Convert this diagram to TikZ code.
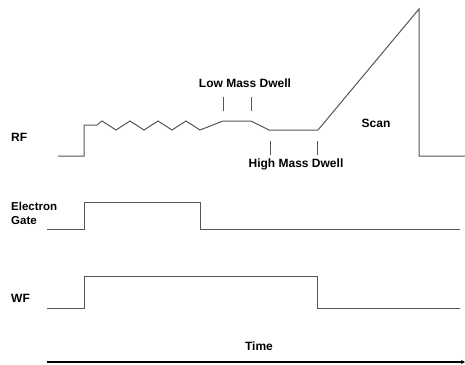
\documentclass[tikz,border=0pt]{standalone}
\usepackage{fontspec}
\setmainfont{Liberation Sans}
\usetikzlibrary{positioning,arrows.meta}
\definecolor{trGray}{RGB}{85,85,85}
\definecolor{txBlack}{RGB}{0,0,0}
\tikzset{
    base/.style={font=\fontsize{12}{14}\selectfont\bfseries, text=txBlack, inner sep=0pt},
    sig label/.style={base, anchor=west, align=left},
    note/.style={base},
    trace/.style={draw=trGray, line width=1pt, line join=miter},
    tick/.style={draw=trGray, line width=1pt},
    axis/.style={-{Stealth[length=4pt,width=4pt]}, draw=txBlack, line width=1.4pt}
}

\begin{document}
\begin{tikzpicture}[x=1pt, y=-1pt]
  \useasboundingbox (0,0) rectangle (465,364);

  % signal names
  \node[sig label] (rf) at (11,137) {RF};
  \node[sig label, font=\fontsize{11.5}{14}\selectfont\bfseries] (gate) at (11,213) {Electron\\Gate};
  \node[sig label] (wf) at (11,298) {WF};

  % RF trace
  \draw[trace] (58,156) -- (84,156) -- (84,125) -- (97,125)
    -- (102,121) -- (116,130) -- (130,121) -- (144,130)
    -- (158,121) -- (172,130) -- (186,121) -- (200,130)
    -- (223,121) -- (251,121) -- (269,130) -- (318,130)
    -- (419,9) -- (419,156) -- (465,156);

  % dwell marks
  \draw[tick] (223,97) -- (223,111);
  \draw[tick] (251,97) -- (251,111);
  \draw[tick] (270,141) -- (270,155);
  \draw[tick] (317,141) -- (317,155);
  \node[note] (low) at (245,83) {Low Mass Dwell};
  \node[note] (high) at (296,164) {High Mass Dwell};
  \node[note] (scan) at (376,123) {Scan};

  % electron gate and WF
  \draw[trace] (47,229) -- (84,229) -- (84,202) -- (200,202) -- (200,229) -- (460,229);
  \draw[trace] (47,308) -- (84,308) -- (84,276) -- (317,276) -- (317,308) -- (460,308);

  % time axis
  \node[note] (time) at (259,346) {Time};
  \coordinate (t0) at (47,362);
  \coordinate (t1) at (465,362);
  \draw[axis] (t0) -- (t1);
\end{tikzpicture}
\end{document}
